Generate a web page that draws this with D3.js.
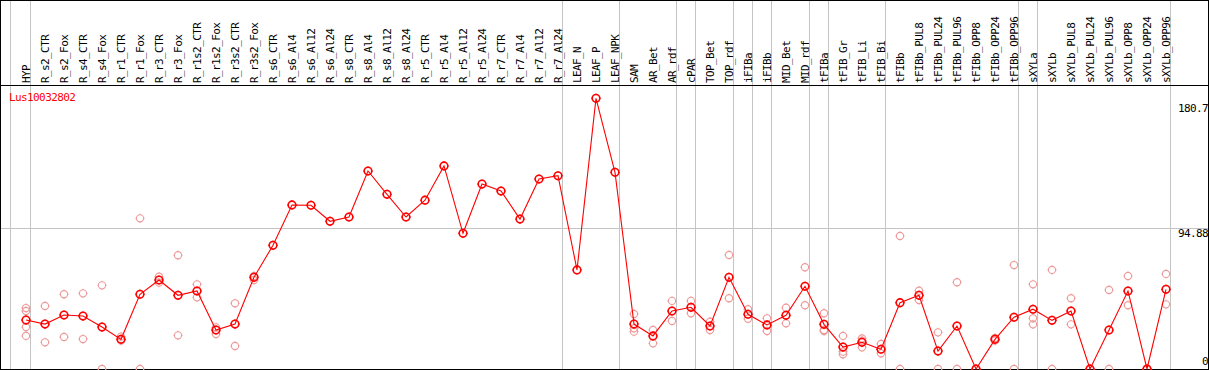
<!DOCTYPE html>
<html>
<head>
<meta charset="utf-8">
<script src="https://cdn.jsdelivr.net/npm/d3@7/dist/d3.min.js"></script>
<style>
    body { margin: 0; background: #fff; }
    text { font-family: "DejaVu Sans Mono", monospace; font-size: 11px; letter-spacing: -0.6px; }
</style>
</head>
<body>
<div id="container"></div>
<script>
var geneId = "Lus10032802";

var categories = ["HYP", "R_s2_CTR", "R_s2_Fox", "R_s4_CTR", "R_s4_Fox", "R_r1_CTR", "R_r1_Fox",
    "R_r3_CTR", "R_r3_Fox", "R_r1s2_CTR", "R_r1s2_Fox", "R_r3s2_CTR", "R_r3s2_Fox",
    "R_s6_CTR", "R_s6_Al4", "R_s6_Al12", "R_s6_Al24", "R_s8_CTR", "R_s8_Al4", "R_s8_Al12", "R_s8_Al24",
    "R_r5_CTR", "R_r5_Al4", "R_r5_Al12", "R_r5_Al24", "R_r7_CTR", "R_r7_Al4", "R_r7_Al12", "R_r7_Al24",
    "LEAF_N", "LEAF_P", "LEAF_NPK", "SAM", "AR_Bet", "AR_rdf", "cPAR", "TOP_Bet", "TOP_rdf",
    "iFIBa", "iFIBb", "MID_Bet", "MID_rdf", "tFIBa", "tFIB_Gr", "tFIB_Li", "tFIB_Bi",
    "tFIBb", "tFIBb_PUL8", "tFIBb_PUL24", "tFIBb_PUL96", "tFIBb_OPP8", "tFIBb_OPP24", "tFIBb_OPP96",
    "sXYLa", "sXYLb", "sXYLb_PUL8", "sXYLb_PUL24", "sXYLb_PUL96", "sXYLb_OPP8", "sXYLb_OPP24", "sXYLb_OPP96"];

// mean expression per sample
var means = [33.0, 30.3, 36.4, 35.7, 28.3, 20.0, 50.4,
    60.0, 49.7, 52.6, 26.3, 30.3, 61.8,
    83.4, 110.6, 110.4, 99.6, 102.5, 133.5, 117.8, 102.5,
    113.8, 136.9, 91.5, 124.7, 120.0, 101.1, 128.1, 130.3,
    66.8, 182.5, 132.6, 30.3, 22.3, 39.1, 41.6, 29.0, 61.8,
    36.9, 29.7, 36.2, 55.8, 30.1, 14.8, 18.0, 13.3,
    44.7, 49.7, 12.1, 29.0, 0, 20.0, 34.9,
    40.3, 32.8, 39.1, 0, 26.3, 52.6, 0, 53.7];

// individual replicates (empty when only one value)
var replicates = [[41.1, 39.1, 28.3, 22.3], [42.5, 18.0], [50.4, 21.6], [51.0, 20.2], [56.4, 0], [21.8, 19.1], [101.6, 0],
    [62.2, 58.2], [76.7, 22.7], [57.1, 48.3], [28.1, 23.6], [44.3, 15.5], [62.7, 60.0],
    [], [], [], [], [], [], [], [],
    [], [], [], [], [], [], [], [],
    [], [], [], [37.1, 27.4, 25.2], [26.3, 17.3], [45.9, 32.4], [45.9, 37.6], [31.9, 26.3], [76.9, 47.7],
    [40.3, 33.9], [34.2, 25.6], [41.3, 30.8], [68.6, 43.0], [37.6, 26.3, 25.6], [22.3, 11.7, 9.9], [20.6, 19.1, 14.6], [16.9, 10.6],
    [89.7, 0], [52.8, 46.5], [24.7, 0], [58.5, 0], [0, 0], [20.9, 19.1], [70.1, 0],
    [57.1, 34.2, 30.1], [66.8, 0], [47.7, 30.1], [0, 0], [53.3, 0], [62.7, 43.0], [0, 0], [64.1, 43.6]];

var yTicks = [180.7, 94.88, 0];
var gridValues = [94.88];

// a grey separator is drawn after each of these samples
var groupEnds = ["HYP", "R_r7_Al24", "LEAF_NPK", "AR_rdf", "cPAR", "TOP_rdf", "iFIBa", "iFIBb",
    "MID_rdf", "tFIBa", "tFIB_Bi", "tFIBb_OPP96", "sXYLa", "sXYLb_OPP96"];

var W = 1209, H = 370, HEADER = 85, BOTTOM = 369, RIGHT = 1208;

var svg = d3.select("#container").append("svg")
    .attr("width", W)
    .attr("height", H);

var x = d3.scalePoint()
    .domain(categories)
    .range([26, 26 + 19 * (categories.length - 1)]);

var y = d3.scaleLinear()
    .domain([0, 180.7])
    .range([BOTTOM, 101]);

// grey separators, full height
svg.append("line")
    .attr("x1", x(categories[0]) - 15.5).attr("x2", x(categories[0]) - 15.5)
    .attr("y1", 0).attr("y2", BOTTOM)
    .style("stroke", "#c4c4c4");
svg.selectAll(".sep").data(groupEnds).enter().append("line")
    .attr("class", "sep")
    .attr("x1", function (d) { return x(d) + 4.5; })
    .attr("x2", function (d) { return x(d) + 4.5; })
    .attr("y1", 0).attr("y2", BOTTOM)
    .style("stroke", "#c4c4c4");

svg.selectAll(".grid").data(gridValues).enter().append("line")
    .attr("class", "grid")
    .attr("x1", 0).attr("x2", RIGHT)
    .attr("y1", function (d) { return Math.round(y(d)) + 0.5; })
    .attr("y2", function (d) { return Math.round(y(d)) + 0.5; })
    .style("stroke", "#c4c4c4");

// frame
svg.append("rect")
    .attr("x", 0.5).attr("y", 0.5)
    .attr("width", RIGHT).attr("height", BOTTOM)
    .style("fill", "none")
    .style("stroke", "black");
svg.append("line")
    .attr("x1", 0).attr("x2", RIGHT + 1)
    .attr("y1", HEADER + 0.5).attr("y2", HEADER + 0.5)
    .style("stroke", "black");

// sample names, rotated
svg.selectAll(".lab").data(categories).enter().append("text")
    .attr("class", "lab")
    .attr("transform", function (d) { return "translate(" + (x(d) + 4) + "," + (HEADER - 2) + ") rotate(-90)"; })
    .text(function (d) { return d; })
    .style("fill", "black");

svg.append("text")
    .attr("x", 9)
    .attr("y", 101)
    .text(geneId)
    .style("fill", "red");

svg.selectAll(".ytick").data(yTicks).enter().append("text")
    .attr("class", "ytick")
    .attr("x", RIGHT)
    .attr("y", function (d) { return Math.min(Math.max(y(d) + 9, 112), 365); })
    .attr("text-anchor", "end")
    .text(function (d) { return d; })
    .style("fill", "black");

// marker: open circle with tiny ticks
function marker(sel, color, sw, r) {
    sel.append("circle")
        .attr("r", r)
        .style("fill", "none")
        .style("stroke", color)
        .style("stroke-width", sw);
    sel.append("path")
        .attr("d", "M0," + (-r - 1) + "V" + (-r) + "M0," + r + "V" + (r + 1) +
            "M" + (-r - 1) + ",0H" + (-r) + "M" + r + ",0H" + (r + 1))
        .style("stroke", color)
        .style("stroke-width", 1);
}

var repPoints = [];
replicates.forEach(function (reps, i) {
    reps.forEach(function (v) { repPoints.push({cat: categories[i], value: v}); });
});

var plot = svg.append("g");

plot.selectAll(".rep").data(repPoints).enter().append("g")
    .attr("class", "rep")
    .attr("transform", function (d) { return "translate(" + x(d.cat) + "," + y(d.value) + ")"; })
    .call(marker, "#ee9a9a", 1.1, 3.6);

var line = d3.line()
    .x(function (d, i) { return x(categories[i]); })
    .y(function (d) { return y(d); });

plot.append("path")
    .datum(means)
    .attr("d", line)
    .style("fill", "none")
    .style("stroke", "red")
    .style("stroke-width", 1.1);

plot.selectAll(".mean").data(means).enter().append("g")
    .attr("class", "mean")
    .attr("transform", function (d, i) { return "translate(" + x(categories[i]) + "," + y(d) + ")"; })
    .call(marker, "red", 1.6, 3.8);
</script>
</body>
</html>
